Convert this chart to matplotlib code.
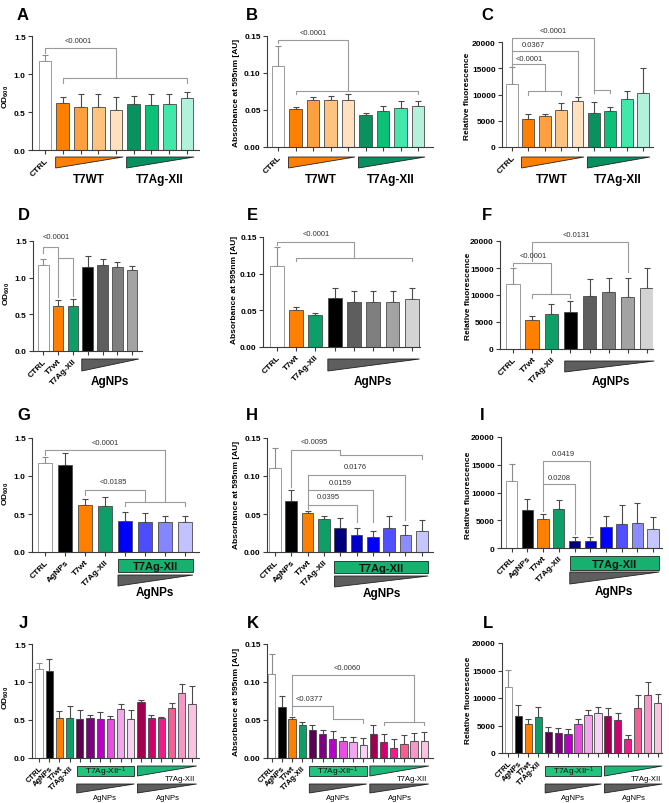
import matplotlib
matplotlib.use("Agg")
import matplotlib.pyplot as plt
from matplotlib.patches import Polygon, Rectangle
from matplotlib.transforms import blended_transform_factory

plt.rcParams['font.family'] = ['Liberation Sans', 'DejaVu Sans']
plt.rcParams['mathtext.fontset'] = 'custom'
plt.rcParams['mathtext.rm'] = 'Liberation Sans'
plt.rcParams['mathtext.bf'] = 'Liberation Sans:bold'
plt.rcParams['mathtext.it'] = 'Liberation Sans:italic'

# ---- data (bar means and SD) ----
orange = ["#FF7F00", "#FFA040", "#FFC27F", "#FFE1C0"]
green = ["#0A9160", "#0CC077", "#42E8AA", "#B2F2DB"]
greys = ["#000000", "#5E5E5E", "#7F7F7F", "#A3A3A3", "#D3D3D3"]
blues4 = ["#0000FF", "#4D4DFF", "#8585FF", "#C2C2FF"]
blues6 = ["#00007F", "#0000C8", "#0000FF", "#5050FF", "#8C8CFF", "#C6C6FF"]
purples = ["#5C0052", "#7E0082", "#B800C8", "#E650E0", "#F2A6EC", "#F8D2F4"]
pinks = ["#A0004F", "#D2006E", "#F01C8C", "#F26096", "#F797C8", "#F9C4E0"]
wt_col = "#FF7F00"
ag_col = "#0E9E68"

A_val = [1.17, 0.62, 0.56, 0.56, 0.52, 0.61, 0.59, 0.61, 0.69]
A_sd = [0.08, 0.08, 0.18, 0.18, 0.18, 0.10, 0.15, 0.13, 0.07]
B_val = [0.110, 0.051, 0.064, 0.063, 0.063, 0.043, 0.049, 0.053, 0.055]
B_sd = [0.027, 0.003, 0.003, 0.006, 0.009, 0.003, 0.006, 0.009, 0.007]
C_val = [12000, 5300, 5900, 7000, 8800, 6400, 6900, 9100, 10200]
C_sd = [3200, 900, 400, 1400, 800, 2100, 800, 1500, 4800]

D_val = [1.17, 0.62, 0.61, 1.15, 1.17, 1.14, 1.11]
D_sd = [0.08, 0.08, 0.10, 0.15, 0.08, 0.07, 0.05]
E_val = [0.110, 0.051, 0.043, 0.067, 0.061, 0.061, 0.062, 0.065]
E_sd = [0.027, 0.003, 0.004, 0.014, 0.016, 0.016, 0.014, 0.015]
F_val = [12000, 5300, 6400, 6900, 9800, 10600, 9700, 11300]
F_sd = [3000, 800, 2000, 1900, 3200, 2600, 3500, 3700]

G_val = [1.17, 1.15, 0.62, 0.61, 0.41, 0.39, 0.39, 0.39]
G_sd = [0.08, 0.15, 0.08, 0.11, 0.12, 0.12, 0.09, 0.09]
H_val = [0.110, 0.067, 0.051, 0.044, 0.031, 0.022, 0.020, 0.032, 0.023, 0.027]
H_sd = [0.027, 0.014, 0.003, 0.003, 0.014, 0.010, 0.007, 0.015, 0.012, 0.015]
I_val = [12000, 6900, 5300, 7100, 1300, 1200, 3700, 4400, 4500, 3400]
I_sd = [3100, 1900, 800, 1500, 700, 800, 2100, 3300, 3600, 2100]

J_val = [1.17, 1.15, 0.53, 0.53, 0.51, 0.52, 0.51, 0.51, 0.65, 0.51,
         0.74, 0.52, 0.53, 0.66, 0.86, 0.71]
J_sd = [0.08, 0.15, 0.09, 0.15, 0.12, 0.05, 0.10, 0.04, 0.06, 0.12,
        0.02, 0.05, 0.01, 0.06, 0.11, 0.24]
K_val = [0.110, 0.067, 0.051, 0.044, 0.037, 0.032, 0.025, 0.022, 0.021, 0.017,
         0.032, 0.021, 0.013, 0.018, 0.022, 0.022]
K_sd = [0.027, 0.014, 0.003, 0.003, 0.007, 0.005, 0.010, 0.006, 0.007, 0.009,
        0.012, 0.011, 0.012, 0.012, 0.011, 0.012]
L_val = [12000, 6800, 5300, 6500, 3800, 3600, 3400, 5200, 6900, 7200,
         6700, 6000, 2600, 8100, 10500, 9100]
L_sd = [3100, 2000, 800, 1900, 1000, 1000, 1000, 1000, 1000, 1200,
        1500, 1300, 700, 2500, 2500, 1700]

row1_cols = ["white"] + orange + green
D_cols = ["white", wt_col, ag_col] + greys[:4]
EF_cols = ["white", wt_col, ag_col] + greys
G_cols = ["white", "black", wt_col, ag_col] + blues4
HI_cols = ["white", "black", wt_col, ag_col] + blues6
JKL_cols = ["white", "black", wt_col, ag_col] + purples + pinks

row1_labels = ["CTRL"]
row2_labels = ["CTRL", "T7wt", "T7Ag-XII"]
row3_labels = ["CTRL", "AgNPs", "T7wt", "T7Ag-XII"]

od_ticks = [0, 0.5, 1.0, 1.5]
od_tlab = ["0.0", "0.5", "1.0", "1.5"]
ab_ticks = [0, 0.05, 0.10, 0.15]
ab_tlab = ["0.00", "0.05", "0.10", "0.15"]
fl_ticks = [0, 5000, 10000, 15000, 20000]
fl_tlab = ["0", "5000", "10000", "15000", "20000"]

W, H = 669, 804
fig = plt.figure(figsize=(W / 100, H / 100), dpi=100)
AX_COL = "#3c3c3c"
BR_COL = "#9a9a9a"


def fy(y):
    return 1 - y / H


def panel(box, vals, sds, cols, ticks, tlabs, ylabel, xlabels, letter, lxy, yl_xy, xfs=6):
    x0, x1, ytop, ybase, c, s = box
    ax = fig.add_axes([x0 / W, 1 - ybase / H, (x1 - x0) / W, (ybase - ytop) / H])
    xs = list(range(len(vals)))
    edges = ["#8c8c8c" if col == "white" else "#4a4a4a" for col in cols]
    ax.bar(xs, vals, width=0.72, color=cols, edgecolor=edges, linewidth=0.6, zorder=2)
    for x, v, e, ec in zip(xs, vals, sds, edges):
        ax.errorbar([x], [v], yerr=[[0], [e]], fmt='none', ecolor=ec,
                    elinewidth=0.8, capsize=2.2, capthick=0.8, zorder=1)
    ax.set_xlim((x0 - c) / s, (x1 - c) / s)
    ax.set_ylim(ticks[0], ticks[-1])
    ax.set_yticks(ticks)
    ax.set_yticklabels(tlabs, fontsize=6, fontweight='bold')
    ax.set_xticks(xs)
    labs = xlabels + [""] * (len(vals) - len(xlabels))
    ax.set_xticklabels(labs, rotation=45, ha='right', rotation_mode='anchor',
                       fontsize=xfs, fontweight='bold')
    for sp in ['top', 'right']:
        ax.spines[sp].set_visible(False)
    for sp in ['left', 'bottom']:
        ax.spines[sp].set_color(AX_COL)
        ax.spines[sp].set_linewidth(0.8)
    ax.tick_params(length=3, width=0.8, color=AX_COL, pad=1.5)
    fig.text(lxy[0] / W, fy(lxy[1]), letter, fontsize=12, fontweight='bold',
             ha='center', va='center')
    fig.text(yl_xy[0] / W, fy(yl_xy[1]), ylabel, fontsize=6, fontweight='bold',
             rotation=90, ha='center', va='center')
    ax.patch.set_alpha(0)
    return ax


def br(ax, pts):
    xs, ys = zip(*pts)
    ax.plot(xs, ys, color=BR_COL, lw=0.8, clip_on=False, zorder=3)


def pv(ax, x, y, txt):
    ax.text(x, y, txt, ha='center', va='center', fontsize=5.5, color='#333333',
            clip_on=False)


def wedge(ax, xa, xb, yt, yb, col):
    tr = blended_transform_factory(ax.transData, fig.transFigure)
    p = Polygon([(xa, fy(yt)), (xb, fy(yt)), (xa, fy(yb))], closed=True,
                transform=tr, facecolor=col, edgecolor='#222222', lw=0.6, clip_on=False)
    fig.add_artist(p)


def box_label(ax, xa, xb, yt, yb, col, txt, fs, weight):
    tr = blended_transform_factory(ax.transData, fig.transFigure)
    r = Rectangle((xa, fy(yb)), xb - xa, (yb - yt) / H, transform=tr,
                  facecolor=col, edgecolor='#222222', lw=0.6, clip_on=False, zorder=1)
    fig.add_artist(r)
    fig.text((xa + xb) / 2, fy((yt + yb) / 2 + 0.5), txt, transform=tr, ha='center',
             va='center', fontsize=fs, fontweight=weight, color='#111111', zorder=5)


def under(ax, x, y, txt, fs, weight='bold'):
    tr = blended_transform_factory(ax.transData, fig.transFigure)
    fig.text(x, fy(y), txt, transform=tr, ha='center', va='center',
             fontsize=fs, fontweight=weight, zorder=5)


OD = r"OD$_{\mathbf{600}}$"
AB = "Absorbance at 595nm [AU]"
FL = "Relative fluorescence"

# ---------------- row 1 ----------------
ax = panel((32, 199, 37, 151, 45, 17.75), A_val, A_sd, row1_cols, od_ticks, od_tlab,
           OD, row1_labels, "A", (23, 15), (6, 97))
br(ax, [(0, 1.28), (0, 1.34), (4, 1.34), (4, 0.95)])
br(ax, [(1, 0.88), (1, 0.95), (8, 0.95), (8, 0.88)])
pv(ax, 1.9, 1.44, "<0.0001")
row1_axes = [ax]

ax = panel((267, 433, 37, 148, 278, 17.5), B_val, B_sd, row1_cols, ab_ticks, ab_tlab,
           AB, row1_labels, "B", (252, 15), (236, 93))
br(ax, [(0, 0.140), (0, 0.1445), (4, 0.1445), (4, 0.076)])
br(ax, [(1, 0.072), (1, 0.076), (8, 0.076), (8, 0.072)])
pv(ax, 2.0, 0.155, "<0.0001")
row1_axes.append(ax)

ax = panel((502, 653, 43, 148, 511.7, 16.45), C_val, C_sd, row1_cols, fl_ticks, fl_tlab,
           FL, row1_labels, "C", (487, 15), (467, 96))
br(ax, [(0, 15500), (0, 20760), (5, 20760), (5, 10900)])
br(ax, [(5, 10200), (5, 10900), (6, 10900), (6, 10200)])
br(ax, [(0, 18290), (4, 18290), (4, 10000)])
br(ax, [(0, 15750), (2, 15750), (2, 10600)])
br(ax, [(1, 9850), (1, 10600), (3, 10600), (3, 9850)])
pv(ax, 2.5, 22100, "<0.0001")
pv(ax, 1.3, 19550, "0.0367")
pv(ax, 1.05, 16950, "<0.0001")
row1_axes.append(ax)

for ax in row1_axes:
    wedge(ax, 0.6, 4.4, 158, 169, "#FF7F00")
    wedge(ax, 4.6, 8.4, 158, 169, "#079060")
    under(ax, 2.45, 180, "T7WT", 8.5)
    under(ax, 6.45, 180, "T7Ag-XII", 8.5)

# ---------------- row 2 ----------------
ax = panel((33, 142, 242, 352, 43.3, 14.8), D_val, D_sd, D_cols, od_ticks, od_tlab,
           OD, row2_labels, "D", (24, 216), (7, 294))
br(ax, [(0, 1.34), (0, 1.42), (1, 1.42), (1, 0.74)])
br(ax, [(1, 1.27), (2, 1.27), (2, 0.75)])
pv(ax, 0.85, 1.56, "<0.0001")
wedge(ax, 2.6, 6.45, 360, 372, "#5E5E5E")
under(ax, 4.5, 382, "AgNPs", 8.5)

ax = panel((263, 420, 238, 348, 276.7, 19.3), E_val, E_sd, EF_cols, ab_ticks, ab_tlab,
           AB, row2_labels, "E", (252, 216), (235, 290))
br(ax, [(0, 0.139), (0, 0.143), (4, 0.143), (4, 0.121)])
br(ax, [(1, 0.117), (1, 0.121), (7, 0.121), (7, 0.117)])
pv(ax, 2.07, 0.155, "<0.0001")
wedge(ax, 2.65, 7.4, 360, 372, "#5E5E5E")
under(ax, 5.0, 382, "AgNPs", 8.5)

ax = panel((500, 653, 242, 350, 513.3, 19.05), F_val, F_sd, EF_cols, fl_ticks, fl_tlab,
           FL, row2_labels, "F", (487, 216), (468, 296))
br(ax, [(0, 15400), (0, 16000), (2, 16000), (2, 10150)])
br(ax, [(1, 9500), (1, 10150), (3, 10150), (3, 9500)])
br(ax, [(1, 16300), (1, 19880), (6, 19880), (6, 14300)])
pv(ax, 3.33, 21230, "<0.0131")
pv(ax, 1.05, 17400, "<0.0001")
wedge(ax, 2.7, 7.4, 362, 373, "#5E5E5E")
under(ax, 5.1, 382, "AgNPs", 8.5)

# ---------------- row 3 ----------------
ax = panel((32, 199, 439, 553, 45, 20), G_val, G_sd, G_cols, od_ticks, od_tlab,
           OD, row3_labels, "G", (24, 416), (6, 494))
br(ax, [(0, 1.28), (0, 1.346), (6, 1.346), (6, 0.658)])
br(ax, [(4, 0.60), (4, 0.658), (7, 0.658), (7, 0.60)])
br(ax, [(2, 0.745), (2, 0.82), (5, 0.82), (5, 0.658)])
pv(ax, 3.0, 1.447, "<0.0001")
pv(ax, 3.42, 0.93, "<0.0185")
box_label(ax, 3.65, 7.4, 560, 573, "#17B06F", "T7Ag-XII", 8, 'bold')
wedge(ax, 3.65, 7.4, 576, 587, "#5E5E5E")
under(ax, 5.5, 593, "AgNPs", 8.5)

ax = panel((267, 433, 439, 553, 275, 16.3), H_val, H_sd, HI_cols, ab_ticks, ab_tlab,
           AB, row3_labels, "H", (252, 416), (236, 495))
br(ax, [(1, 0.085), (1, 0.1346), (4, 0.1346), (4, 0.128)])
br(ax, [(4, 0.128), (9, 0.128), (9, 0.123)])
br(ax, [(2, 0.057), (2, 0.1009), (8, 0.1009), (8, 0.042)])
br(ax, [(2, 0.0811), (6, 0.0811), (6, 0.040)])
br(ax, [(2, 0.0614), (5, 0.0614), (5, 0.040)])
pv(ax, 2.41, 0.146, "<0.0095")
pv(ax, 4.9, 0.112, "0.0176")
pv(ax, 4.0, 0.092, "0.0159")
pv(ax, 3.27, 0.0724, "0.0395")
box_label(ax, 3.65, 9.4, 562, 574, "#17B06F", "T7Ag-XII", 8, 'bold')
wedge(ax, 3.65, 9.4, 577, 588, "#5E5E5E")
under(ax, 6.55, 594, "AgNPs", 8.5)

ax = panel((501, 662, 438, 549, 511.7, 15.7), I_val, I_sd, HI_cols, fl_ticks, fl_tlab,
           FL, row3_labels, "I", (482, 416), (468, 495))
br(ax, [(2, 6700), (2, 15680), (5, 15680), (5, 2500)])
br(ax, [(2, 11470), (4, 11470), (4, 2500)])
pv(ax, 3.26, 17000, "0.0419")
pv(ax, 3.04, 12670, "0.0208")
box_label(ax, 3.7, 9.4, 557, 571, "#17B06F", "T7Ag-XII", 8, 'bold')
wedge(ax, 3.7, 9.4, 573, 585, "#5E5E5E")
under(ax, 6.5, 592, "AgNPs", 8.5)

# ---------------- row 4 ----------------
row4 = []
ax = panel((32, 199, 645, 759, 39, 10.2), J_val, J_sd, JKL_cols, od_ticks, od_tlab,
           OD, row3_labels, "J", (23, 624), (6, 698), xfs=5.5)
row4.append(ax)

ax = panel((267, 433, 645, 759, 271.7, 10.17), K_val, K_sd, JKL_cols, ab_ticks, ab_tlab,
           AB, row3_labels, "K", (253, 624), (236, 702), xfs=5.5)
br(ax, [(2, 0.068), (2, 0.1093), (14, 0.1093), (14, 0.048)])
br(ax, [(11, 0.043), (11, 0.048), (15, 0.048), (15, 0.043)])
br(ax, [(2, 0.057), (2, 0.0682), (6, 0.0682), (6, 0.0516)])
br(ax, [(6, 0.0516), (9, 0.0516), (9, 0.046)])
pv(ax, 7.4, 0.119, "<0.0060")
pv(ax, 3.7, 0.078, "<0.0377")
row4.append(ax)

ax = panel((502, 662, 644, 754, 508.3, 9.96), L_val, L_sd, JKL_cols, fl_ticks, fl_tlab,
           FL, row3_labels, "L", (488, 624), (468, 700), xfs=5.5)
row4.append(ax)

for ax in row4:
    box_label(ax, 3.7, 9.35, 767, 777, "#22C47E", r"T7Ag-XII$^{-1}$", 6, 'normal')
    wedge(ax, 9.65, 15.45, 767, 777, "#1DB679")
    under(ax, 13.8, 780, "T7Ag-XII", 5.5, 'normal')
    wedge(ax, 3.7, 9.35, 785, 794, "#5E5E5E")
    wedge(ax, 9.65, 15.45, 785, 794, "#5E5E5E")
    under(ax, 6.5, 799, "AgNPs", 5.5, 'normal')
    under(ax, 12.6, 799, "AgNPs", 5.5, 'normal')

fig.savefig("out.png", dpi=100)
